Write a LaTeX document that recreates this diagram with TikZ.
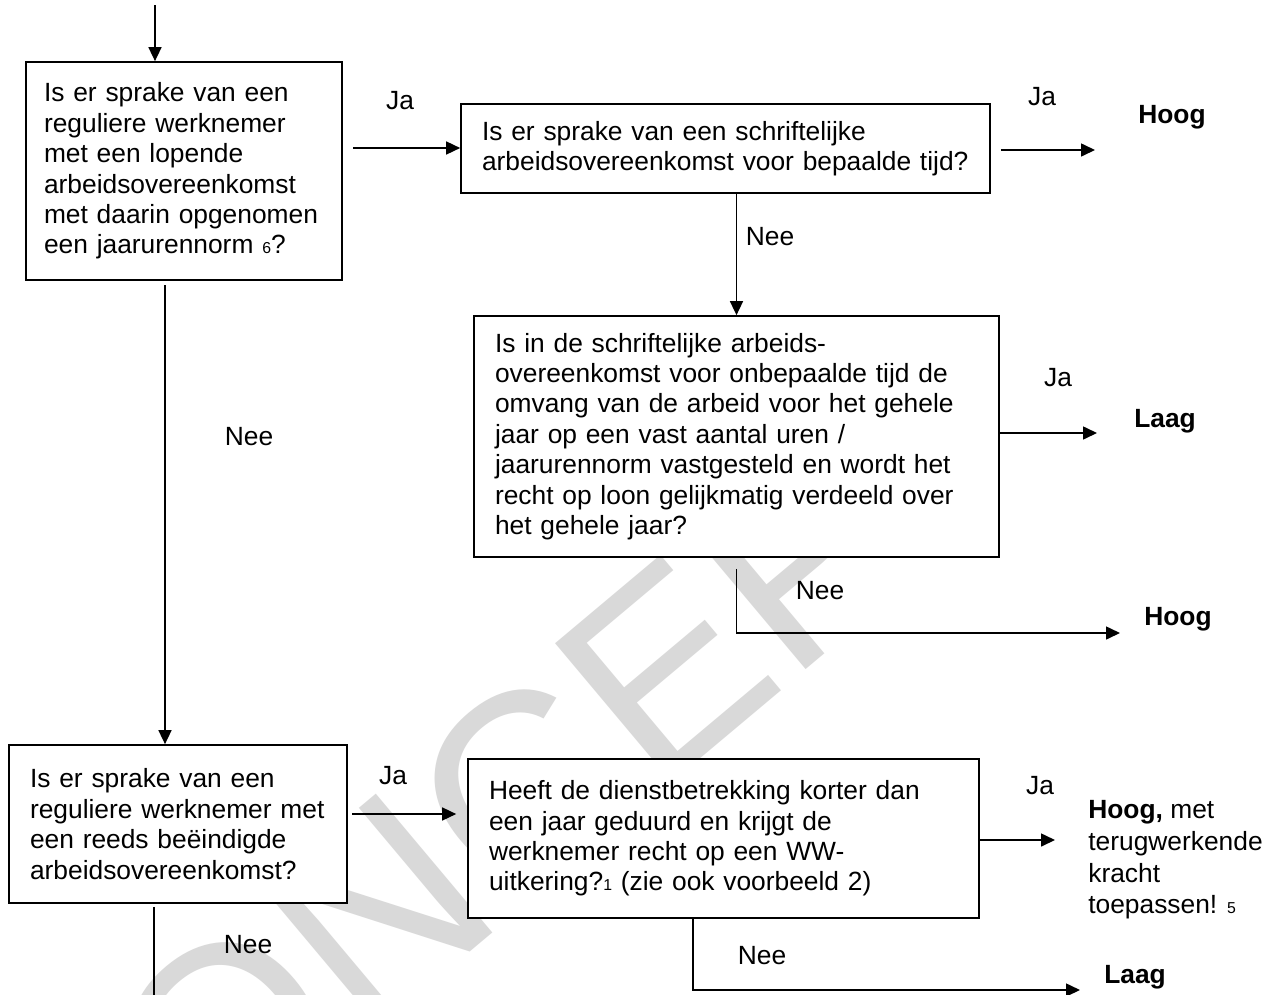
\documentclass[tikz,border=0pt]{standalone}
\usepackage{fontspec}
\setmainfont{Liberation Sans}
\usepackage{tikz}
\usetikzlibrary{arrows.meta,calc,positioning}
\definecolor{Watermark}{HTML}{D9D9D9}
\newcommand{\fnref}[1]{{\fontsize{9}{9}\selectfont #1}}

\begin{document}
\begin{tikzpicture}[x=0.02cm, y=-0.02cm, >={Triangle[length=0.28cm,width=0.26cm]},
    font=\fontsize{15}{17.3}\selectfont,
    qbox/.style={draw, line width=1pt, fill=white, rectangle, align=left, inner xsep=0.42cm, inner ysep=0pt},
    conn/.style={->, line width=0.9pt},
    lbl/.style={inner sep=0pt},
    outcome/.style={inner sep=0pt, font=\fontsize{15}{17.3}\selectfont\bfseries}]
    \useasboundingbox (0,0) rectangle (1288,994);
    \clip (0,0) rectangle (1288,994);
    \fill[white] (0,0) rectangle (1288,994);

    % Watermark
    \node[Watermark, rotate=40, inner sep=0pt, font=\fontsize{150}{150}\selectfont] (wm) at (496,812) {CONCEPT};

    % Questions
    \node[qbox, inner xsep=0.36cm, text width=5.6cm, minimum height=4.36cm] (q1) at (184,171) {Is er sprake van een\\ reguliere werknemer\\ met een lopende\\ arbeidsovereenkomst\\ met daarin opgenomen\\ een jaarurennorm \fnref{6}?};
    \node[qbox, text width=9.74cm, minimum height=1.78cm] (q2) at (725.5,148.5) {Is er sprake van een schriftelijke\\ arbeidsovereenkomst voor bepaalde tijd?};
    \node[qbox, text width=9.66cm, minimum height=4.82cm] (q3) at (736.5,436.5) {Is in de schriftelijke arbeids-\\ overeenkomst voor onbepaalde tijd de\\ omvang van de arbeid voor het gehele\\ jaar op een vast aantal uren /\\ jaarurennorm vastgesteld en wordt het\\ recht op loon gelijkmatig verdeeld over\\ het gehele jaar?};
    \node[qbox, text width=5.92cm, minimum height=3.16cm] (q4) at (178,824) {Is er sprake van een\\ reguliere werknemer met\\ een reeds be\"eindigde\\ arbeidsovereenkomst?};
    \node[qbox, text width=9.38cm, minimum height=3.18cm] (q5) at (723.5,838.5) {Heeft de dienstbetrekking korter dan\\ een jaar geduurd en krijgt de\\ werknemer recht op een WW-\\ uitkering?\fnref{1} (zie ook voorbeeld 2)};

    % Outcomes
    \node[outcome] (hoog1) at (1172,117) {Hoog};
    \node[outcome] (laag1) at (1165,421) {Laag};
    \node[outcome] (hoog2) at (1178,619) {Hoog};
    \node[inner sep=0pt, align=left, anchor=west, font=\fontsize{15}{18}\selectfont] (hoog3) at (1088,860) {\textbf{Hoog,} met\\ terugwerkende\\ kracht\\ toepassen! \fnref{5}};
    \node[outcome] (laag2) at (1135,977) {Laag};

    % Labels
    \node[lbl] (ja1) at (400,101) {Ja};
    \node[lbl] (ja2) at (1042,97) {Ja};
    \node[lbl] (nee1) at (770,237) {Nee};
    \node[lbl] (ja3) at (1058,378) {Ja};
    \node[lbl] (nee2) at (820,591) {Nee};
    \node[lbl] (nee3) at (249,437) {Nee};
    \node[lbl] (ja4) at (393,776) {Ja};
    \node[lbl] (ja5) at (1040,786) {Ja};
    \node[lbl] (nee4) at (762,956) {Nee};
    \node[lbl] (nee5) at (248,945) {Nee};

    % Free ends
    \coordinate (in) at (155,5);
    \coordinate (ja1s) at (353,148);
    \coordinate (e1) at (1095,150);
    \coordinate (e2) at (1097,433);
    \coordinate (e3) at (1120,633);
    \coordinate (n1) at (165,285);
    \coordinate (ja4s) at (352,814);
    \coordinate (e4) at (1055,840);
    \coordinate (n5) at (693,0);
    \coordinate (e5) at (1080,990);
    \coordinate (n4) at (154,1000);

    % Connectors
    \draw[conn] (in) -- (in |- q1.north);
    \draw[conn] (ja1s) -- (ja1s -| q2.west);
    \draw[conn, shorten <=0.2cm] (q2.east |- e1) -- (e1);
    \draw[conn] (q3.north |- q2.south) -- (q3.north);
    \draw[conn] (q3.east |- e2) -- (e2);
    \draw[conn, shorten <=0.22cm] (q3.south) |- (e3);
    \draw[conn] (n1) -- (n1 |- q4.north);
    \draw[conn, shorten >=0.22cm] (ja4s) -- (ja4s -| q5.west);
    \draw[conn] (q5.east |- e4) -- (e4);
    \draw[conn] (n5 |- q5.south) |- (e5);
    \draw[line width=0.9pt, shorten <=0.06cm] (n4 |- q4.south) -- (n4);

\end{tikzpicture}
\end{document}
